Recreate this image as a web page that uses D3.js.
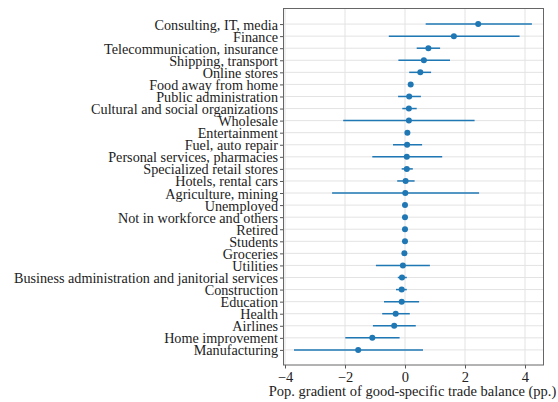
<!DOCTYPE html>
<html><head><meta charset="utf-8">
<script src="https://cdn.jsdelivr.net/npm/d3@7"></script>
<style>body{margin:0;background:#fff}svg{display:block}</style>
</head><body>
<svg id="chart" width="558" height="402"></svg>
<script>
const categories = ["Consulting, IT, media","Finance","Telecommunication, insurance","Shipping, transport","Online stores","Food away from home","Public administration","Cultural and social organizations","Wholesale","Entertainment","Fuel, auto repair","Personal services, pharmacies","Specialized retail stores","Hotels, rental cars","Agriculture, mining","Unemployed","Not in workforce and others","Retired","Students","Groceries","Utilities","Business administration and janitorial services","Construction","Education","Health","Airlines","Home improvement","Manufacturing"];
const estimates = [2.44,1.63,0.78,0.63,0.51,0.19,0.14,0.13,0.13,0.08,0.07,0.06,0.06,0.02,0.01,0.0,0.0,0.0,0.0,-0.02,-0.07,-0.10,-0.11,-0.11,-0.31,-0.36,-1.09,-1.56];
const ciLow = [0.69,-0.54,0.39,-0.22,0.14,0.15,-0.23,-0.09,-2.06,0.05,-0.40,-1.09,-0.11,-0.26,-2.43,0.0,0.0,0.0,0.0,-0.04,-0.97,-0.24,-0.30,-0.70,-0.76,-1.07,-1.99,-3.70];
const ciHigh = [4.23,3.82,1.17,1.50,0.87,0.23,0.53,0.39,2.32,0.11,0.57,1.24,0.26,0.32,2.47,0.0,0.0,0.0,0.0,0.0,0.83,0.06,0.06,0.47,0.16,0.36,-0.18,0.60];
const xTicks = [-4,-2,0,2,4];
const xLabel = "Pop. gradient of good-specific trade balance (pp.)";

const svg = d3.select("#chart");
const L = 283.5, R = 543.5, T = 8.5, B = 365;
const x = d3.scaleLinear().domain([-4.05, 4.617]).range([L, R]);
const n = categories.length;
const y = d3.scaleLinear().domain([-1.29, n - 1 + 1.25]).range([T, B]);
const font = "'Liberation Serif', 'DejaVu Serif', serif";
const blue = "#1f77b4";

const g = svg.append("g");
// vertical grid
g.selectAll("line.vg").data(xTicks).join("line")
  .attr("x1", d => x(d)).attr("x2", d => x(d)).attr("y1", T).attr("y2", B)
  .attr("stroke", "#e3e3e3").attr("stroke-width", 1);
// horizontal grid
g.selectAll("line.hg").data(categories).join("line")
  .attr("x1", L).attr("x2", R).attr("y1", (d,i) => y(i)).attr("y2", (d,i) => y(i))
  .attr("stroke", "#e3e3e3").attr("stroke-width", 1);

// axes
const xAxis = d3.axisBottom(x).tickValues(xTicks).tickSize(3.5).tickPadding(3)
  .tickFormat(d => d < 0 ? "\u2212" + Math.abs(d) : String(d));
const gx = svg.append("g").attr("transform", `translate(0,${B})`).call(xAxis);
gx.select(".domain").remove();
gx.selectAll("line").attr("stroke", "#555");
gx.selectAll("text").attr("font-family", font).attr("font-size", 14.5).attr("fill", "#222");

const yAxis = d3.axisLeft(y).tickValues(d3.range(n)).tickSize(3.5).tickPadding(2)
  .tickFormat(i => categories[i]);
const gy = svg.append("g").attr("transform", `translate(${L},0)`).call(yAxis);
gy.select(".domain").remove();
gy.selectAll("line").attr("stroke", "#555");
gy.selectAll("text").attr("font-family", font).attr("font-size", 14.2).attr("fill", "#222").attr("dy", "0.35em");

// error bars
svg.append("g").selectAll("line").data(categories).join("line")
  .attr("x1", (d,i) => x(ciLow[i])).attr("x2", (d,i) => x(ciHigh[i]))
  .attr("y1", (d,i) => y(i)).attr("y2", (d,i) => y(i))
  .attr("stroke", blue).attr("stroke-width", 1.5);
// points
svg.append("g").selectAll("circle").data(categories).join("circle")
  .attr("cx", (d,i) => x(estimates[i])).attr("cy", (d,i) => y(i)).attr("r", 3)
  .attr("fill", blue);

// frame
svg.append("rect").attr("x", L).attr("y", T).attr("width", R - L).attr("height", B - T)
  .attr("fill", "none").attr("stroke", "#666").attr("stroke-width", 1);

svg.append("text").attr("x", (L + R) / 2 - 1).attr("y", 396)
  .attr("text-anchor", "middle").attr("font-family", font).attr("font-size", 14.5)
  .attr("fill", "#222").text(xLabel);
</script>
</body></html>
